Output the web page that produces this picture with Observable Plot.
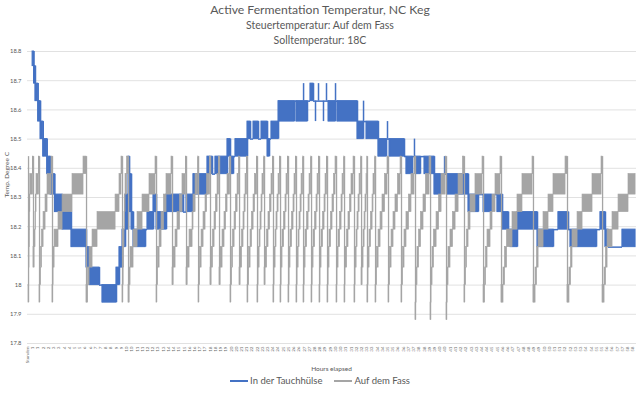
<!DOCTYPE html>
<html><head><meta charset="utf-8">
<script src="https://cdn.jsdelivr.net/npm/d3@7"></script>
<script src="https://cdn.jsdelivr.net/npm/@observablehq/plot@0.6"></script>
<style>
body{margin:0;background:#fff;width:640px;height:397px;overflow:hidden;position:relative;font-family:Lato,"Open Sans",sans-serif;color:#595959}
.h{position:absolute;left:0;width:640px;text-align:center;white-space:nowrap}
#t1{top:2px;font-size:12.2px;line-height:16px}
#t2{top:18px;font-size:10.5px;line-height:14px}
#t3{top:33px;font-size:10.5px;line-height:14px}
#chart{position:absolute;left:0;top:46px}
#xl{position:absolute;top:364px;left:27px;width:609px;text-align:center;font-size:6.5px;line-height:10px}
#legend{position:absolute;top:374px;left:0;width:640px;display:flex;justify-content:center;align-items:center;font-size:9.5px;line-height:14px}
.sw{display:inline-block;width:18px;height:2px;margin-right:2px}
.it{display:flex;align-items:center;margin:0 6px}
</style></head>
<body>
<div class="h" id="t1">Active Fermentation Temperatur, NC Keg</div>
<div class="h" id="t2">Steuertemperatur: Auf dem Fass</div>
<div class="h" id="t3">Solltemperatur: 18C</div>
<div id="chart"></div>
<div id="xl">Hours elapsed</div>
<div id="legend"></div>
<script>
// ---- data ----
const seriesNames = ["In der Tauchhülse", "Auf dem Fass"];
const seriesColors = ["#4472C4", "#A5A5A5"];
const yTicks = [17.8, 17.9, 18.0, 18.1, 18.2, 18.3, 18.4, 18.5, 18.6, 18.7, 18.8];
const xTickLabels = ["Stunden"];
for (let h = 1; h <= 58; h++) { xTickLabels.push(String(h), String(h)); }

// "In der Tauchhülse": [t0, t1, low, high] (hours; flicker band between two sensor steps)
const blueBoxes = [
 [0.39,0.53,18.75,18.8],[0.53,0.67,18.69,18.75],[0.67,0.93,18.63,18.69],[0.93,1.16,18.56,18.63],
 [1.16,1.42,18.5,18.56],[1.42,1.80,18.44,18.5],[1.80,2.12,18.38,18.44],[2.12,2.54,18.31,18.38],
 [2.54,3.28,18.25,18.31],[3.28,4.14,18.19,18.25],[4.14,5.59,18.13,18.19],[5.59,5.88,18.06,18.13],
 [5.88,6.84,18.0,18.06],[6.84,7.13,18.0,18.0],[7.13,8.48,17.94,18.0],[8.48,8.77,18.0,18.06],
 [8.77,9.06,18.06,18.13],[9.06,9.35,18.13,18.19],[9.35,9.64,18.19,18.31],[9.64,9.74,18.31,18.44],
 [9.74,9.93,18.25,18.38],[9.93,10.12,18.19,18.25],[10.12,11.28,18.13,18.19],[11.28,11.47,18.19,18.19],
 [11.47,12.05,18.19,18.25],[12.05,12.34,18.25,18.31],[12.34,13.30,18.19,18.25],[13.30,14.94,18.25,18.31],
 [14.94,15.23,18.25,18.25],[15.23,15.90,18.25,18.31],[15.90,17.25,18.31,18.38],[17.25,17.73,18.38,18.44],
 [17.73,18.02,18.38,18.38],[18.02,19.18,18.38,18.44],[19.18,19.47,18.44,18.5],[19.47,19.76,18.38,18.44],
 [19.76,19.95,18.44,18.44],[19.95,21.11,18.44,18.5],[21.11,21.40,18.5,18.56],[21.40,21.69,18.5,18.5],
 [21.69,22.17,18.5,18.56],[22.17,22.46,18.5,18.5],[22.46,23.04,18.5,18.56],[23.04,23.23,18.44,18.5],
 [23.23,23.42,18.5,18.5],[23.42,24.10,18.5,18.56],[24.10,25.64,18.56,18.63],[25.64,25.83,18.63,18.63],
 [25.83,26.89,18.56,18.63],[26.89,27.18,18.63,18.63],[27.18,27.47,18.63,18.69],[27.47,28.92,18.63,18.63],
 [28.92,29.59,18.56,18.63],[29.59,29.78,18.63,18.63],[29.78,31.71,18.56,18.63],[31.71,32.29,18.5,18.56],
 [32.29,32.58,18.56,18.56],[32.58,33.73,18.5,18.56],[33.73,34.51,18.44,18.5],[34.51,34.80,18.5,18.5],
 [34.80,36.24,18.44,18.5],[36.24,36.43,18.44,18.44],[36.43,37.01,18.38,18.44],[37.01,37.30,18.44,18.44],
 [37.30,37.78,18.38,18.44],[37.78,38.17,18.44,18.44],[38.17,39.13,18.38,18.44],[39.13,39.71,18.31,18.38],
 [39.71,40.39,18.38,18.38],[40.39,42.41,18.31,18.38],[42.41,43.37,18.25,18.31],[43.37,43.86,18.31,18.31],
 [43.86,44.63,18.25,18.31],[44.63,45.20,18.31,18.31],[45.20,45.69,18.25,18.31],[45.69,46.27,18.19,18.25],
 [46.27,46.46,18.19,18.19],[46.46,47.13,18.13,18.19],[47.13,49.06,18.19,18.25],[49.06,50.60,18.13,18.19],
 [50.60,51.08,18.19,18.19],[51.08,52.05,18.19,18.25],[52.05,52.24,18.19,18.19],[52.24,54.75,18.13,18.19],
 [54.75,55.13,18.19,18.19],[55.13,55.61,18.19,18.25],[55.61,55.90,18.13,18.19],[55.90,57.25,18.13,18.13],
 [57.25,58.51,18.13,18.19]
];
// short single readings of "In der Tauchhülse": [t, low, high]
const blueSpikes = [
 [26.51,18.63,18.69],[27.66,18.56,18.63],[27.95,18.63,18.69],[28.43,18.56,18.63],[28.72,18.63,18.69],
 [29.59,18.63,18.69],[32.29,18.56,18.63],[34.60,18.5,18.56],[37.20,18.44,18.5],[40.10,18.38,18.44]
];

// "Auf dem Fass": sensor steps, and cooling cycles [drop time, lowest value, times of each step up]
const grayLevels = [17.88, 17.94, 18.0, 18.06, 18.13, 18.19, 18.25, 18.31, 18.38, 18.44];
const grayCycles = [
 [0.00,17.94,0.03,0.06,0.09,0.12,0.14,0.17,0.43],
 [0.48,18.06,0.58,0.67,0.72,0.77,1.01],
 [1.06,17.94,1.11,1.20,1.30,1.45,1.64,1.83,2.22],
 [2.31,17.94,2.36,2.41,2.51,2.89,3.28,4.24,5.30],
 [5.59,17.94,5.74,5.88,6.17,6.65,8.39,8.77,8.96],
 [9.06,17.94,9.11,9.16,9.21,9.25,9.30,9.35,9.50],
 [9.64,17.94,9.74,9.83,10.12,10.51,10.99,11.66,12.24],
 [12.34,17.94,12.39,12.48,12.63,12.82,13.06,13.30,13.78],
 [13.88,18.0,13.98,14.17,14.36,14.60,14.84,15.18],
 [15.23,18.0,15.33,15.52,15.81,15.90,16.10,16.34],
 [16.39,17.94,16.43,16.53,16.68,16.87,17.06,17.21,17.50],
 [17.54,18.0,17.64,17.78,17.93,18.07,18.22,18.36],
 [18.41,18.0,18.51,18.70,18.89,19.04,19.18,19.42],
 [19.47,17.94,19.52,19.62,19.71,19.86,20.00,20.15,20.29],
 [20.34,18.0,20.43,20.58,20.72,20.82,20.92,21.06],
 [21.11,17.94,21.16,21.26,21.40,21.54,21.69,21.83,22.03],
 [22.07,17.94,22.12,22.17,22.27,22.36,22.46,22.55,22.70],
 [22.75,18.0,22.84,22.99,23.13,23.28,23.42,23.57],
 [23.61,17.94,23.66,23.71,23.81,23.90,24.00,24.10,24.24],
 [24.29,17.94,24.34,24.39,24.48,24.63,24.77,24.87,25.01],
 [25.06,17.94,25.11,25.16,25.25,25.40,25.54,25.64,25.78],
 [25.83,17.94,25.88,25.93,26.03,26.12,26.22,26.32,26.46],
 [26.51,17.94,26.56,26.61,26.70,26.85,26.99,27.09,27.23],
 [27.28,17.94,27.33,27.38,27.47,27.62,27.76,27.86,28.00],
 [28.05,17.94,28.10,28.14,28.24,28.39,28.53,28.63,28.77],
 [28.82,17.94,28.87,28.92,29.01,29.16,29.30,29.45,29.59],
 [29.69,17.94,29.74,29.78,29.88,30.03,30.17,30.27,30.41],
 [30.46,17.94,30.51,30.55,30.70,30.84,30.99,31.13,31.33],
 [31.42,17.94,31.47,31.52,31.62,31.71,31.81,31.91,32.05],
 [32.10,18.0,32.19,32.29,32.39,32.48,32.58,32.65],
 [32.67,17.94,32.72,32.77,32.87,33.01,33.16,33.25,33.40],
 [33.45,17.94,33.50,33.59,33.74,33.93,34.12,34.36,34.60],
 [34.70,17.94,34.75,34.84,34.99,35.18,35.37,35.61,35.86],
 [35.95,17.94,36.00,36.10,36.24,36.43,36.67,36.91,37.20],
 [37.30,17.88,37.35,37.40,37.49,37.64,37.83,38.07,38.31,38.65],
 [38.75,17.88,38.80,38.84,38.94,39.08,39.33,39.57,39.81,40.20],
 [40.29,17.88,40.34,40.39,40.48,40.67,40.91,41.16,41.45,41.88],
 [42.02,17.94,42.07,42.17,42.26,42.41,42.60,43.08,43.76],
 [43.86,17.94,44.00,44.10,44.24,44.53,44.72,45.01,45.49],
 [45.59,17.94,45.78,45.93,46.12,46.65,47.13,47.61,48.58],
 [48.67,17.94,48.87,49.01,49.16,49.64,50.12,50.60,51.76],
 [51.95,17.94,52.14,52.29,52.43,52.92,53.40,54.36,55.23],
 [55.33,17.94,55.52,55.66,55.81,56.29,56.87,57.83,58.51]
];
const grayEnd = 58.51;

// ---- build mark data from the arrays ----
const blue = blueBoxes.map(([t0, t1, lo, hi]) => ({t0, t1, lo, hi}));
const blueBands = blue.filter(d => d.hi > d.lo);
const blueFlat = blue.filter(d => d.hi === d.lo);
const blueJoins = blue.slice(0, -1).map((d, i) => {
  const n = blue[i + 1];
  return {t: d.t1, lo: Math.min(d.lo, n.lo), hi: Math.max(d.hi, n.hi)};
});
const blueSp = blueSpikes.map(([t, lo, hi]) => ({t, lo, hi}));

const grayBands = [];
grayCycles.forEach((c, i) => {
  const [d, b, ...steps] = c;
  const end = i + 1 < grayCycles.length ? grayCycles[i + 1][0] : grayEnd;
  const times = [d, ...steps, end];
  let k = grayLevels.indexOf(b);
  for (let j = 0; j < times.length - 1 && k + 1 < grayLevels.length; j++, k++) {
    if (times[j + 1] > times[j]) grayBands.push({t0: times[j], t1: times[j + 1], lo: grayLevels[k], hi: grayLevels[k + 1]});
  }
});
const grayDrops = grayCycles.map(c => ({t: c[0], lo: c[1], hi: grayLevels[grayLevels.length - 1]}));

const xTicks = xTickLabels.map((label, i) => ({t: i * 0.503 - 0.1, label}));

const B = seriesColors[0], G = seriesColors[1];
const chart = Plot.plot({
  width: 640, height: 318,
  marginLeft: 27, marginRight: 4, marginTop: 5, marginBottom: 21,
  x: {domain: [-0.1, 58.6], axis: null},
  y: {domain: [17.8, 18.8], axis: null},
  style: {fontFamily: "Lato, 'Open Sans', sans-serif", color: "#595959", background: "transparent", overflow: "visible"},
  marks: [
    Plot.gridY(yTicks, {stroke: "#d9d9d9", strokeOpacity: 1, strokeWidth: 0.8}),
    Plot.axisY(yTicks, {tickSize: 0, tickPadding: 6, fontSize: 5.8, tickFormat: d3.format(".3~g"), label: null}),
    Plot.text(["Temp. Degree C"], {text: d => d, frameAnchor: "left", rotate: -90, dx: -21, fontSize: 6.5, fill: "#595959"}),
    Plot.text(xTicks, {x: "t", text: "label", frameAnchor: "bottom", rotate: -90, textAnchor: "end", lineAnchor: "middle", dy: 3, fontSize: 4.6, fill: "#6f6f6f"}),
    // In der Tauchhülse
    Plot.rect(blueBands, {x1: "t0", x2: "t1", y1: "lo", y2: "hi", fill: B, stroke: B, strokeWidth: 1}),
    Plot.ruleY(blueFlat, {y: "lo", x1: "t0", x2: "t1", stroke: B, strokeWidth: 1.5}),
    Plot.ruleX(blueJoins, {x: "t", y1: "lo", y2: "hi", stroke: B, strokeWidth: 1.5}),
    Plot.ruleX(blueSp, {x: "t", y1: "lo", y2: "hi", stroke: B, strokeWidth: 1.5}),
    // Auf dem Fass
    Plot.rect(grayBands, {x1: "t0", x2: "t1", y1: "lo", y2: "hi", fill: G, stroke: G, strokeWidth: 0.7}),
    Plot.ruleX(grayDrops, {x: "t", y1: "lo", y2: "hi", stroke: G, strokeWidth: 1.3})
  ]
});
document.getElementById("chart").appendChild(chart);

const lg = document.getElementById("legend");
seriesNames.forEach((n, i) => {
  const it = document.createElement("span");
  it.className = "it";
  it.innerHTML = `<span class="sw" style="background:${seriesColors[i]}"></span>${n}`;
  lg.appendChild(it);
});
</script>
</body></html>
